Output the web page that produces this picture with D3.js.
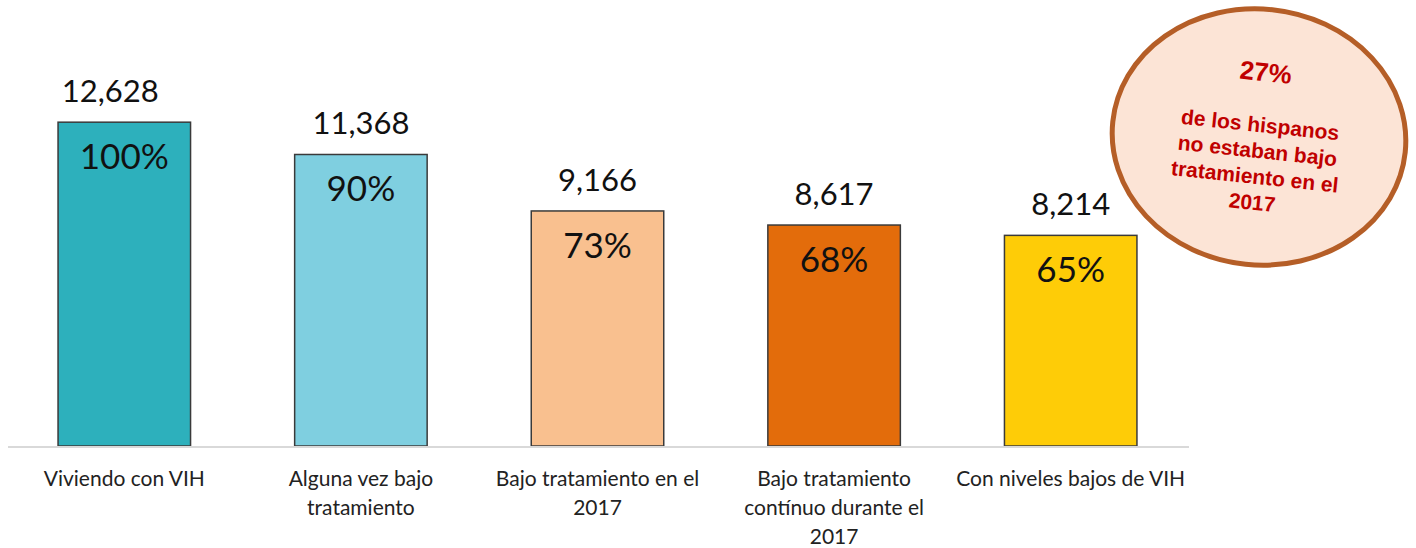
<!DOCTYPE html>
<html>
<head>
<meta charset="utf-8">
<script src="https://cdn.jsdelivr.net/npm/d3@7"></script>
<style>
  body { margin: 0; background: #fff; }
  svg { display: block; }
</style>
</head>
<body>
<svg id="chart" width="1416" height="548"></svg>
<script>
// data
var categories = [
  ["Viviendo con VIH"],
  ["Alguna vez bajo", "tratamiento"],
  ["Bajo tratamiento en el", "2017"],
  ["Bajo tratamiento", "contínuo durante el", "2017"],
  ["Con niveles bajos de VIH"]
];
var values = [12628, 11368, 9166, 8617, 8214];
var percents = ["100%", "90%", "73%", "68%", "65%"];
var colors = ["#2DB0BC", "#7FCFE0", "#F9C08F", "#E36C0B", "#FECC07"];
var calloutLines = ["de los hispanos", "no estaban bajo", "tratamiento en el", "2017"];
var calloutPct = "27%";

var svg = d3.select("#chart");
var font = "Lato, 'Open Sans', sans-serif";

var x = d3.scaleBand()
  .domain(d3.range(values.length))
  .range([6, 1189])
  .paddingInner(0.44)
  .paddingOuter(0.22);

var y = d3.scaleLinear()
  .domain([0, 14000])
  .range([446, 87]);

var g = svg.append("g");

// bars
g.selectAll("rect.bar")
  .data(values)
  .enter().append("rect")
    .attr("class", "bar")
    .attr("x", function(d, i) { return x(i); })
    .attr("y", function(d) { return y(d); })
    .attr("width", x.bandwidth())
    .attr("height", function(d) { return y(0) - y(d); })
    .attr("fill", function(d, i) { return colors[i]; })
    .attr("stroke", "#3a3a3a")
    .attr("stroke-width", 1.5);

// baseline
g.append("line")
  .attr("x1", 8).attr("x2", 1189)
  .attr("y1", y(0) + 1).attr("y2", y(0) + 1)
  .attr("stroke", "#d9d9d9")
  .attr("stroke-width", 2);

// value labels above bars (first one sits a bit to the left in the original)
g.selectAll("text.val")
  .data(values)
  .enter().append("text")
    .attr("class", "val")
    .attr("x", function(d, i) { return x(i) + x.bandwidth() / 2 - (i === 0 ? 14 : 0); })
    .attr("y", function(d) { return y(d) - 20; })
    .attr("text-anchor", "middle")
    .style("font-family", font)
    .style("font-size", "31px")
    .attr("fill", "#111")
    .text(d3.format(","));

// percent labels inside bars
g.selectAll("text.pct")
  .data(values)
  .enter().append("text")
    .attr("class", "pct")
    .attr("x", function(d, i) { return x(i) + x.bandwidth() / 2; })
    .attr("y", function(d) { return y(d) + 47; })
    .attr("text-anchor", "middle")
    .style("font-family", font)
    .style("font-size", "35px")
    .attr("fill", "#111")
    .text(function(d, i) { return percents[i]; });

// category labels
var cat = g.selectAll("text.cat")
  .data(categories)
  .enter().append("text")
    .attr("class", "cat")
    .attr("text-anchor", "middle")
    .style("font-family", font)
    .style("font-size", "21px")
    .attr("fill", "#222")
    .attr("x", function(d, i) { return x(i) + x.bandwidth() / 2; })
    .attr("y", y(0) + 40);

cat.selectAll("tspan")
  .data(function(d) { return d; })
  .enter().append("tspan")
    .attr("x", function() { return d3.select(this.parentNode).attr("x"); })
    .attr("dy", function(d, j) { return j === 0 ? 0 : 29; })
    .text(function(d) { return d; });

// callout ellipse
var c = svg.append("g").attr("transform", "translate(1259,137) rotate(6)");
c.append("ellipse")
  .attr("rx", 147).attr("ry", 128)
  .attr("fill", "#FCE4D6")
  .attr("stroke", "#B55E27")
  .attr("stroke-width", 5);

c.append("text")
  .attr("x", 0).attr("y", -56)
  .attr("text-anchor", "middle")
  .style("font-family", "'Liberation Sans', Arial, sans-serif")
  .style("font-weight", "bold")
  .style("font-size", "26px")
  .attr("fill", "#C00000")
  .text(calloutPct);

c.selectAll("text.note")
  .data(calloutLines)
  .enter().append("text")
    .attr("class", "note")
    .attr("x", 0)
    .attr("y", function(d, i) { return -5 + i * 26; })
    .attr("text-anchor", "middle")
    .style("font-family", "'Liberation Sans', Arial, sans-serif")
    .style("font-weight", "bold")
    .style("font-size", "21px")
    .attr("fill", "#C00000")
    .text(function(d) { return d; });
</script>
</body>
</html>
